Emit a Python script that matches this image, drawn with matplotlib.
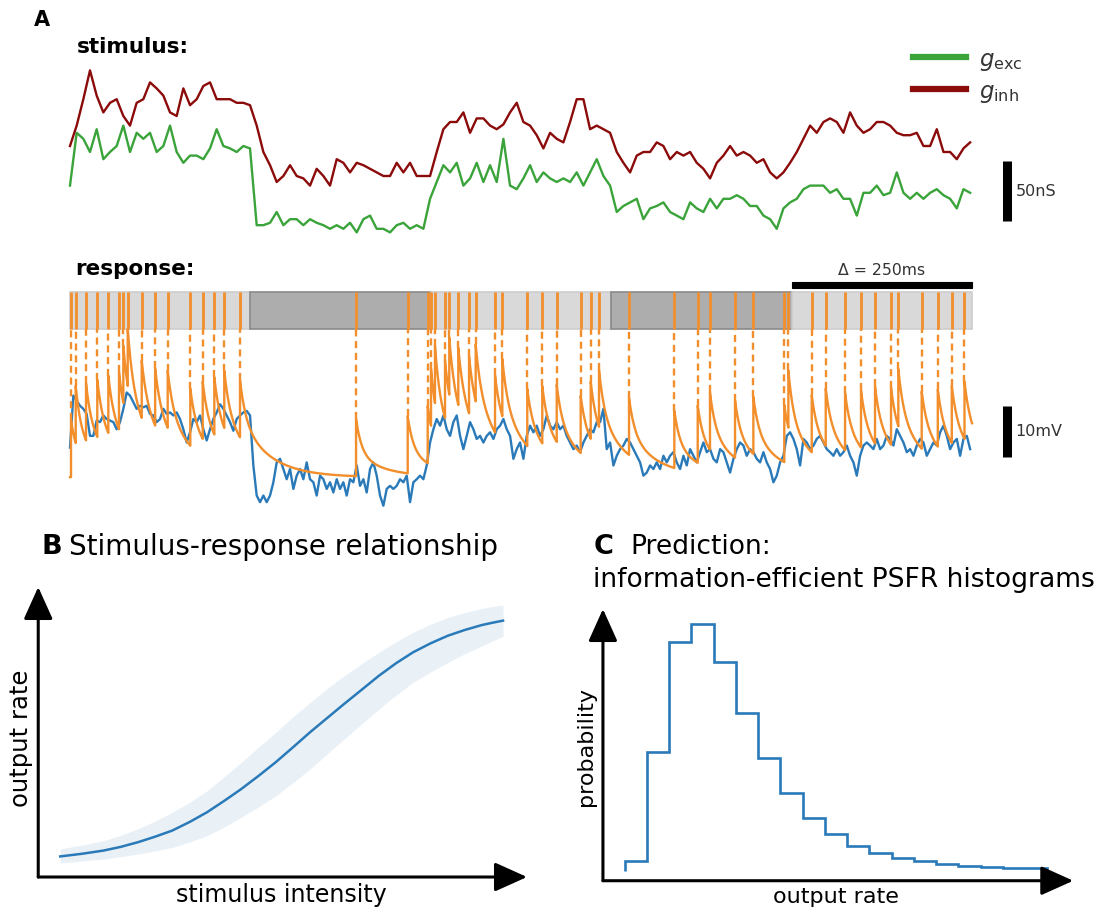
import numpy as np
import matplotlib.pyplot as plt
from matplotlib.patches import Rectangle

# ---- panel A: conductance inputs (nS), sampled every 9.24 ms ----
G_DT_MS = 9.24
G_EXC = [57, 101, 96, 85, 104, 79, 85, 90, 107, 85,
         101, 96, 101, 85, 90, 107, 85, 76, 82, 82,
         79, 88, 104, 90, 88, 85, 90, 88, 24, 24,
         26, 35, 24, 29, 29, 24, 29, 26, 24, 21,
         24, 21, 26, 18, 29, 32, 21, 21, 18, 24,
         26, 21, 24, 21, 46, 60, 74, 68, 76, 57,
         63, 76, 60, 74, 60,
         96, 57, 54, 63, 74, 60, 68, 63, 60, 63,
         60, 68, 57, 68, 79, 65, 57, 35, 40, 43,
         46, 29, 38, 40, 43, 35, 32, 29, 43, 38,
         35, 46, 38, 46, 46, 49, 46, 40, 40, 32,
         29, 21, 38, 43, 46, 54, 57, 57, 57, 51,
         54, 46, 46, 32, 51, 51, 57, 49, 51, 68,
         51, 46, 51, 46, 51, 54, 49, 46, 38, 54,
         51]
G_INH = [90, 107, 129, 153, 132, 118, 126, 129, 115, 107,
         126, 129, 143, 138, 132, 118, 115, 138, 124, 129,
         140, 143, 129, 129, 129, 126, 126, 124, 107, 85,
         74, 60, 65, 74, 65, 63, 57, 71, 65, 57,
         79, 76, 68, 76, 74, 71, 68, 65, 65, 76,
         68, 76, 65, 65, 65, 85, 104, 110, 110, 118,
         101, 113, 113, 107, 104,
         108, 118, 126, 110, 107, 99, 88, 101, 96, 93,
         110, 129, 129, 104, 107, 104, 101, 85, 76, 68,
         82, 85, 85, 93, 90, 79, 85, 82, 85, 76,
         71, 63, 76, 82, 90, 82, 85, 82, 76, 79,
         68, 63, 68, 76, 85, 96, 107, 101, 110, 113,
         110, 101, 118, 107, 101, 104, 110, 110, 107, 101,
         99, 99, 101, 90, 90, 104, 85, 85, 79, 88,
         93]

# membrane potential (mV), sampled every 4.62 ms
V_DT_MS = 4.62
V_MEM = [-56.0, -45.8, -46.8, -47.8, -48.4, -49.4, -53.7, -53.7, -50.7, -51.0,
         -49.7, -50.4, -50.7, -51.0, -52.4, -51.0, -48.4, -45.2, -45.8, -47.1,
         -48.4, -47.8, -48.1, -47.8, -49.4, -49.7, -51.0, -50.4, -48.4, -49.4,
         -49.1, -49.7, -49.1, -50.4, -52.4, -55.0, -53.0, -50.4, -51.0, -49.7,
         -52.4, -54.6, -52.4, -50.4, -49.1, -47.5, -48.4, -49.7, -51.0, -52.7,
         -50.4, -49.7, -49.1, -48.8, -49.7, -59.5, -65.4, -66.7, -65.4, -66.7,
         -65.4, -62.8, -58.9, -58.2, -60.2, -62.2, -60.2, -64.1, -61.5, -60.2,
         -62.2, -58.9, -62.2, -62.8, -65.4, -61.5, -62.2, -64.1, -62.8, -64.8,
         -62.2, -64.1, -62.8, -65.4, -62.2, -62.8, -59.5, -63.5, -62.2, -64.8,
         -60.2, -58.9, -61.5, -65.4, -67.4, -64.1, -63.5, -64.1, -63.5, -62.2,
         -62.8, -61.5, -66.7, -62.8, -62.2, -61.5, -62.2, -59.5, -55.0, -52.4,
         -50.4, -51.7, -49.7, -52.4, -53.7, -51.0, -49.7, -53.7, -56.3, -53.7,
         -51.0, -52.4, -54.3, -53.7, -55.0, -53.7, -53.0, -54.3, -52.4, -51.7,
         -50.4, -52.4, -53.7, -58.2, -56.3, -55.0, -58.2, -53.7, -51.7, -53.0,
         -51.7, -53.7, -52.4, -49.7, -51.7, -52.4, -51.0, -52.4, -51.7, -53.7,
         -55.0, -56.3, -55.6, -56.9, -55.0, -53.7, -52.4, -53.0, -51.0, -51.0,
         -48.4, -56.3, -55.0, -59.5, -57.6, -56.3, -55.6, -54.3, -55.0, -56.3,
         -57.6, -58.9, -61.5, -60.9, -59.5, -60.2, -58.9, -60.2, -57.6, -58.9,
         -57.6, -56.9, -58.9, -60.2, -57.6, -59.5, -56.3, -57.6, -58.9, -56.9,
         -55.0, -56.9, -56.3, -58.2, -58.9, -56.3, -56.9, -58.9, -60.9, -58.2,
         -56.3, -55.0, -55.6, -57.6, -56.3, -56.9, -58.2, -58.9, -56.9, -58.9,
         -60.2, -62.8, -61.5, -58.9, -57.6, -53.7, -53.0, -54.3, -56.3, -59.5,
         -54.3, -55.0, -56.3, -55.6, -54.3, -53.7, -55.0, -56.3, -56.9, -57.6,
         -56.3, -57.6, -56.9, -55.6, -57.6, -58.9, -61.5, -57.6, -55.6, -55.0,
         -55.6, -56.3, -54.3, -56.3, -55.6, -53.7, -54.3, -55.6, -52.4, -53.7,
         -55.0, -56.9, -56.3, -57.6, -55.6, -54.3, -55.0, -57.6, -56.3, -55.0,
         -55.6, -53.0, -51.7, -53.7, -56.3, -55.0, -54.3, -57.6, -54.3, -53.7,
         -56.3]

SPIKE_MS = [1.4, 7.9, 22.2, 37.8, 53.1, 67.9, 73.9, 80.0, 99.4, 118.0,
            135.4, 166.7, 183.9, 200.0, 213.8, 235.6, 396.4, 468.0, 495.7, 500.3,
            505.8, 519.7, 525.6, 538.1, 553.0, 562.2, 589.0, 599.1, 633.7, 654.5,
            674.5, 707.7, 721.6, 733.1, 774.7, 837.5, 869.9, 886.9, 921.6, 947.0,
            989.9, 995.5, 1027.9, 1047.3, 1074.1, 1096.2, 1115.6, 1137.8, 1147.9, 1180.3,
            1202.6, 1222.0, 1239.6]

# adaptive threshold: resting level plus fast/slow spike-triggered jumps
TH_REST, TH_FAST, TH_SLOW = -61.8, 6.9, 4.3
TAU_FAST, TAU_SLOW = 8.0, 40.0

WINDOW_EDGES = [0, 250, 500, 750, 1000, 1250]
WINDOW_SHADE = ['light', 'dark', 'light', 'dark', 'light']
DELTA_MS = 250

# ---- panel B: stimulus-response curve ----
STIM = [0.045, 0.089, 0.133, 0.169, 0.204, 0.239, 0.274, 0.310, 0.345, 0.380,
        0.415, 0.451, 0.486, 0.521, 0.556, 0.591, 0.626, 0.662, 0.697, 0.732,
        0.767, 0.803, 0.838, 0.873, 0.908, 0.930, 0.951]
RATE = [0.071, 0.080, 0.091, 0.104, 0.120, 0.139, 0.160, 0.190, 0.223, 0.262,
        0.303, 0.349, 0.396, 0.447, 0.499, 0.548, 0.597, 0.646, 0.694, 0.737,
        0.775, 0.806, 0.832, 0.852, 0.869, 0.877, 0.884]
RATE_LO = [0.048, 0.055, 0.062, 0.070, 0.079, 0.090, 0.102, 0.121, 0.142, 0.172,
           0.206, 0.242, 0.280, 0.325, 0.372, 0.424, 0.476, 0.528, 0.579, 0.627,
           0.671, 0.707, 0.740, 0.770, 0.797, 0.814, 0.830]
RATE_HI = [0.097, 0.110, 0.125, 0.144, 0.166, 0.193, 0.223, 0.258, 0.297, 0.345,
           0.395, 0.448, 0.499, 0.552, 0.602, 0.650, 0.694, 0.736, 0.775, 0.811,
           0.844, 0.872, 0.895, 0.912, 0.926, 0.933, 0.938]

# ---- panel C: predicted rate histogram ----
RATE_EDGES = list(range(20))
PROB = [0.0075, 0.0886, 0.1715, 0.1847, 0.1565, 0.1181, 0.0841, 0.0582, 0.0394, 0.0275,
        0.0187, 0.0132, 0.0092, 0.0070, 0.0052, 0.0037, 0.0027, 0.0022, 0.0017]

GREEN = '#3aa33a'
RED = '#8b0a0a'
BLUE = '#2a7ab9'
ORANGE = '#f28e2b'
TXT = '#333333'

W, H = 1103, 912
fig = plt.figure(figsize=(W / 100, H / 100), dpi=100)


def axes_px(x0, y0, x1, y1):
    ax = fig.add_axes([x0 / W, 1 - y1 / H, (x1 - x0) / W, (y1 - y0) / H])
    ax.axis('off')
    return ax


def text_px(x, y, s, **kw):
    fig.text(x / W, 1 - y / H, s, **kw)


def threshold_trace(spikes, t_end):
    knots = [0.0] + list(spikes) + [t_end]
    ts, th = [], []
    for a, b in zip(knots[:-1], knots[1:]):
        tt = np.linspace(a, b, max(int((b - a) * 4), 2))
        past = np.array([s for s in spikes if s <= a])
        dt = tt[:, None] - past[None, :]
        k = TH_FAST * np.exp(-dt / TAU_FAST) + TH_SLOW * np.exp(-dt / TAU_SLOW)
        ts.append(tt)
        th.append(TH_REST + k.sum(axis=1))
    return np.concatenate(ts), np.concatenate(th)


def threshold_at(t, spikes):
    past = np.array([s for s in spikes if s <= t])
    dt = t - past
    return TH_REST + np.sum(TH_FAST * np.exp(-dt / TAU_FAST) + TH_SLOW * np.exp(-dt / TAU_SLOW))


ms_per_px = 1250 / 902
xlim_a = (-10 * ms_per_px, 1030 * ms_per_px)

# stimulus traces
ax_s = axes_px(60, 40, 1100, 245)
ax_s.set_xlim(*xlim_a)
ax_s.set_ylim(8.33, 179.17)
t_g = np.arange(len(G_EXC)) * G_DT_MS
l_exc, = ax_s.plot(t_g, G_EXC, color=GREEN, lw=1.7)
l_inh, = ax_s.plot(t_g, G_INH, color=RED, lw=1.7)
leg = ax_s.legend([l_exc, l_inh], [r'$g_{\mathrm{exc}}$', r'$g_{\mathrm{inh}}$'],
                  loc='upper left', bbox_to_anchor=(902 / W, 1 - 37 / H),
                  bbox_transform=fig.transFigure, frameon=False, fontsize=16.5,
                  handlelength=2.3, handletextpad=0.55, labelspacing=0.3,
                  borderpad=0)
for line in leg.get_lines():
    line.set_linewidth(4.5)
for t in leg.get_texts():
    t.set_color(TXT)
ax_s.plot([1299, 1299], [27.5, 77.5], color='k', lw=6.5,
          solid_capstyle='butt', clip_on=False)
ax_s.text(1310, 52.5, '50nS', fontsize=11.5, color=TXT, va='center')

# response: membrane potential, adaptive threshold and spike raster
ax_r = axes_px(60, 262, 1100, 520)
ax_r.set_xlim(*xlim_a)
ax_r.set_ylim(-70, -19.41)
band_lo, band_hi = -32.75, -25.5
for a, b, shade in zip(WINDOW_EDGES[:-1], WINDOW_EDGES[1:], WINDOW_SHADE):
    fc, ec = ('#d9d9d9', '#cdcdcd') if shade == 'light' else ('#adadad', '#8a8a8a')
    ax_r.add_patch(Rectangle((a, band_lo), b - a, band_hi - band_lo,
                             facecolor=fc, edgecolor=ec, lw=1.2, zorder=1))

t_v = np.arange(len(V_MEM)) * V_DT_MS
ax_r.plot(t_v, V_MEM, color=BLUE, lw=1.7, zorder=2)
t_th, th = threshold_trace(SPIKE_MS, WINDOW_EDGES[-1])
ax_r.plot(t_th, th, color=ORANGE, lw=1.7, zorder=3)
th_after = [threshold_at(s, SPIKE_MS) for s in SPIKE_MS]
ax_r.vlines(SPIKE_MS, th_after, band_lo, color=ORANGE, lw=1.7,
            linestyle=(0, (3, 2)), zorder=3)
ax_r.vlines(SPIKE_MS, band_lo, band_hi, color=ORANGE, lw=2.0, zorder=3)

bar_end = WINDOW_EDGES[-1]
ax_r.add_patch(Rectangle((bar_end - DELTA_MS, -24.7), DELTA_MS, 1.2,
                         facecolor='k', edgecolor='k', lw=0.8, zorder=3))
ax_r.text(bar_end - DELTA_MS / 2, -21.0, '\u0394 = %dms' % DELTA_MS,
          fontsize=11.3, color=TXT, ha='center', va='center')
ax_r.plot([1299, 1299], [-57.8, -47.8], color='k', lw=6.5,
          solid_capstyle='butt', clip_on=False)
ax_r.text(1310, -52.6, '10mV', fontsize=11.5, color=TXT, va='center')

text_px(34, 20, 'A', fontsize=15, fontweight='bold', va='center')
text_px(77, 47, 'stimulus:', fontsize=15.5, fontweight='bold', va='center')
text_px(75, 269, 'response:', fontsize=15.5, fontweight='bold', va='center')

arrow = dict(arrowstyle='-|>,head_length=1.0,head_width=0.45', lw=2.2,
             color='k', shrinkA=0, shrinkB=0, mutation_scale=20)

# panel B
ax_b = axes_px(31, 575, 558, 885)
ax_b.set_xlim(-0.0148, 1.0634)
ax_b.set_ylim(-0.0241, 1.0448)
ax_b.fill_between(STIM, RATE_LO, RATE_HI, color=BLUE, alpha=0.1, lw=0)
ax_b.plot(STIM, RATE, color=BLUE, lw=1.8)
ax_b.annotate('', xy=(1.0, 0), xytext=(0, 0), arrowprops=arrow)
ax_b.annotate('', xy=(0, 1.0), xytext=(0, 0), arrowprops=arrow)
text_px(41, 547, 'B', fontsize=19.5, fontweight='bold', va='center')
text_px(69, 547, 'Stimulus-response relationship', fontsize=20, va='center')
text_px(21, 738, 'output rate', fontsize=17.5, rotation=90, ha='center', va='center')
text_px(281, 895, 'stimulus intensity', fontsize=17, ha='center', va='center')

# panel C
ax_c = axes_px(596, 600, 1087, 888)
ax_c.set_xlim(-1.287, 20.776)
ax_c.set_ylim(-0.0122, 0.2034)
ax_c.stairs(PROB, RATE_EDGES, baseline=0, color=BLUE, lw=1.9)
x0c, y0c = -0.975, -0.0075
ax_c.annotate('', xy=(20.16, y0c), xytext=(x0c, y0c), arrowprops=arrow)
ax_c.annotate('', xy=(x0c, 0.1959), xytext=(x0c, y0c), arrowprops=arrow)
text_px(594, 547, 'C', fontsize=19.5, fontweight='bold', va='center')
text_px(630, 547, 'Prediction:', fontsize=19.1, va='center')
text_px(593, 580, 'information-efficient PSFR histograms', fontsize=19.1, va='center')
text_px(586, 747, 'probability', fontsize=16, rotation=90, ha='center', va='center')
text_px(836, 897, 'output rate', fontsize=16, ha='center', va='center')

fig.savefig('out.png', dpi=100)
